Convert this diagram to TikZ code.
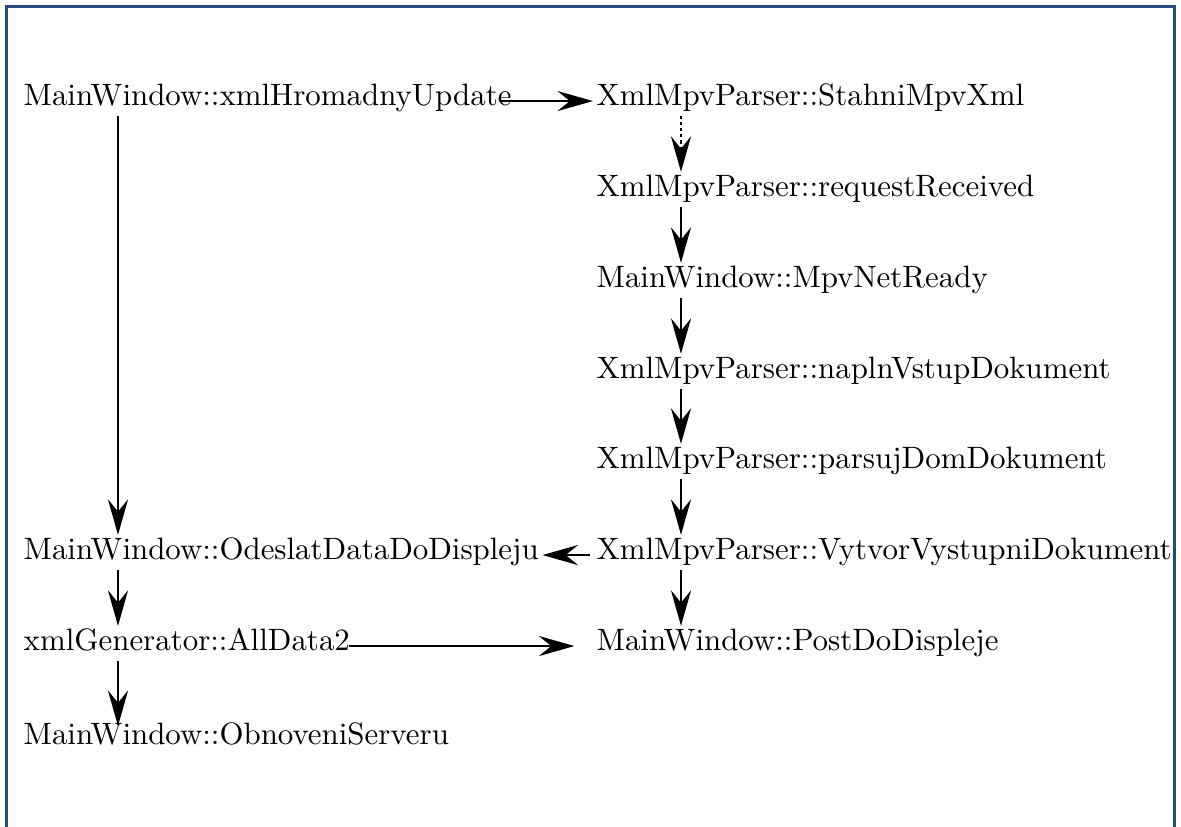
\documentclass[tikz,border=0pt]{standalone}
\usepackage{tikz}
\usetikzlibrary{arrows.meta}
\definecolor{framecol}{RGB}{40,74,130}
\tikzstyle{fn}=[anchor=base west,inner sep=1pt,text height=6.94pt,text depth=1.94pt]
\tikzstyle{call}=[-{Stealth[length=11.5pt,width=6.5pt,inset=4pt]},line width=0.85pt]
\newcommand{\callDown}[4][]{\draw[call,#1] (#3.south -| #2) -- (#4.north -| #2)}

\begin{document}
\begin{tikzpicture}[x=0.3236pt,y=-0.3236pt]
       \useasboundingbox (0,0) rectangle (1181,827);
       \draw[framecol,line width=1.1pt] (6.5,827) -- (6.5,6.5) -- (1174.5,6.5) -- (1174.5,827);
       \coordinate (lc) at (118,0);
       \coordinate (rc) at (681,0);
       % left column
       \node[fn] (upd) at (20,106) {MainWindow::xmlHromadnyUpdate};
       \node[fn] (odes) at (20,560) {MainWindow::OdeslatDataDoDispleju};
       \node[fn] (alldata) at (20,651) {xmlGenerator::AllData2};
       \node[fn] (obnov) at (20,745) {MainWindow::ObnoveniServeru};
       % right column
       \node[fn] (stahni) at (593,106) {XmlMpvParser::StahniMpvXml};
       \node[fn] (req) at (593,197) {XmlMpvParser::requestReceived};
       \node[fn] (netready) at (593,288) {MainWindow::MpvNetReady};
       \node[fn] (napln) at (593,379) {XmlMpvParser::naplnVstupDokument};
       \node[fn] (parsuj) at (593,469) {XmlMpvParser::parsujDomDokument};
       \node[fn] (vytvor) at (593,560) {XmlMpvParser::VytvorVystupniDokument};
       \node[fn] (post) at (593,651) {MainWindow::PostDoDispleje};
       \callDown{lc}{upd}{odes};
       \callDown{lc}{odes}{alldata};
       \callDown[shorten >=-2pt]{lc}{alldata}{obnov};
       \callDown[dash pattern=on 1pt off 1pt]{rc}{stahni}{req};
       \callDown{rc}{req}{netready};
       \callDown{rc}{netready}{napln};
       \callDown{rc}{napln}{parsuj};
       \callDown{rc}{parsuj}{vytvor};
       \callDown{rc}{vytvor}{post};
       \draw[call] ([xshift=-5pt,yshift=1.6pt]upd.base east) -- ([yshift=1.6pt]stahni.base west);
       \draw[call] ([xshift=-1pt,yshift=1.6pt]vytvor.base west) -- ([yshift=1.6pt]odes.base east);
       \draw[call,shorten >=6pt] ([xshift=-1.5pt,yshift=1.6pt]alldata.base east) -- ([yshift=1.6pt]post.base west);
     \end{tikzpicture}
\end{document}
